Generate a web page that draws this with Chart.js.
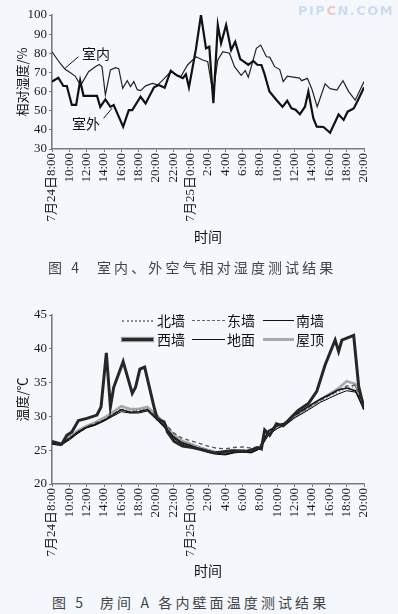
<!DOCTYPE html>
<html><head><meta charset="utf-8">
<script src="https://cdn.jsdelivr.net/npm/chart.js@4/dist/chart.umd.min.js"></script>
<style>
html,body{margin:0;padding:0;background:#f4f8fc;}
#wrap{position:relative;width:398px;height:614px;overflow:hidden;background:#f4f8fc;font-family:'Noto Sans CJK SC',sans-serif;}
.cv{position:absolute;left:0;}
.lbl{position:absolute;font-size:14px;line-height:16px;color:#111;white-space:nowrap;}
.cap{position:absolute;font-size:14px;line-height:16px;color:#444;white-space:nowrap;letter-spacing:3.1px;}
.sw{position:absolute;height:0;}
.wm{position:absolute;left:298px;top:3px;font-family:'DejaVu Sans',sans-serif;font-weight:bold;font-size:13px;letter-spacing:1.5px;color:#cddcf0;}
</style></head><body>
<div id="wrap">
  <canvas class="cv" id="c1" width="398" height="248" style="top:0"></canvas>
  <canvas class="cv" id="c2" width="398" height="292" style="top:290px"></canvas>
  <div class="wm">PIP<span style="color:#f2c4c4">C</span>N.COM</div>
  <div class="lbl" style="left:82px;top:45px">室内</div>
  <div class="lbl" style="left:72px;top:115px">室外</div>
  <div class="cap" style="left:48px;top:259px">图 4</div>
  <div class="cap" style="left:97px;top:259px">室内、外空气相对湿度测试结果</div>
  <div class="cap" style="left:52px;top:594px">图 5</div>
  <div class="cap" style="left:100px;top:594px">房间 A 各内壁面温度测试结果</div>
  <div class="sw" style="left:122px;top:320px;width:31px;border-top:2px dotted #8a8a8a"></div>
  <div class="lbl" style="left:157px;top:312px">北墙</div>
  <div class="sw" style="left:192px;top:320px;width:33px;border-top:1.5px dashed #666"></div>
  <div class="lbl" style="left:227px;top:312px">东墙</div>
  <div class="sw" style="left:263px;top:320px;width:31px;border-top:1.5px solid #111"></div>
  <div class="lbl" style="left:296px;top:312px">南墙</div>
  <div class="sw" style="left:122px;top:338px;width:31px;border-top:3px solid #2a2a2a;box-shadow:0 0 1px 1px #999"></div>
  <div class="lbl" style="left:157px;top:331px">西墙</div>
  <div class="sw" style="left:192px;top:339px;width:33px;border-top:1px solid #111"></div>
  <div class="lbl" style="left:227px;top:331px">地面</div>
  <div class="sw" style="left:263px;top:338px;width:31px;border-top:3px solid #aaa"></div>
  <div class="lbl" style="left:296px;top:331px">屋顶</div>
</div>
<script>
// ---------- shared tick labels (hours since 7/24 8:00) ----------
const timeLabels = ['7月24日8:00','10:00','12:00','14:00','16:00','18:00','20:00','22:00','7月25日0:00','2:00','4:00','6:00','8:00','10:00','12:00','14:00','16:00','18:00','20:00'];

// ---------- Fig 4: relative humidity ----------
const rhIndoorHours = [0,0.93,1.51,2.09,2.67,3.05,3.33,4.22,4.99,5.46,5.77,6.16,6.74,7.32,7.7,8.16,8.68,9.06,9.44,9.84,10.22,10.8,11.58,12.2,12.89,13.7,14.4,14.87,15.64,16.61,17.39,17.97,18.58,19.13,19.71,20.48,21.06,21.83,22.3,22.65,23.0,23.58,24.08,24.74,25.12,25.7,26.28,26.68,27.14,27.84,28.57,28.8,29.47,29.97,30.6,31.51,32.09,32.87,33.57,34.23,34.99,36];
const rhIndoor = [80.8,74.8,71.6,69.9,68.1,65.2,63.4,70.4,73,74.2,73,58.2,71.3,72.5,72,61.7,65.7,62.6,65.2,61,60.5,63,64.3,63.5,66.5,70.5,68.5,67.8,73.9,78.2,76.5,75.6,59,76.5,80.8,80,73,68.5,71,67.5,73,82.6,84.3,78.2,78,73,71.5,65.2,68,67.5,67,65.7,66.9,61.5,52.1,64,61.5,60.8,65.7,60,55.5,65.2];
const rhOutdoorHours = [0,0.73,1.31,1.71,2.29,2.79,3.25,3.64,5.19,5.57,6.16,6.74,7.12,7.7,8.21,8.86,9.26,10.22,10.8,11.77,12.31,13.0,13.7,14.4,15.1,15.45,15.8,16.6,17.19,17.77,18.15,18.62,19.13,19.51,20.09,20.67,21.14,21.72,22.18,22.65,23.23,23.69,24.16,24.5,25.09,25.9,26.6,27.14,27.64,28.1,28.6,29.19,29.58,30.16,30.55,31.32,32.09,33.07,33.65,34.11,34.81,35.27,36];
const rhOutdoor = [65.2,67.2,62.9,62.9,53,53,65.7,57.8,57.8,52,55.9,52,53,46.9,41.6,50.3,50.3,57.3,53.8,62.2,63.4,62,70.9,68.5,67,69,62.2,82,100,82.6,83.4,53.9,94.8,85.2,94.8,81.7,86,77,75.5,74,76,74,73.9,69.5,60,55.6,52,55.2,51.2,50.5,48.1,52.1,60,46,41.7,41.5,38.5,48,45.2,49.5,51.2,55.2,62.2];
// leader lines for the 室内 / 室外 labels, in (hour, value) units
const noteLines = [[[1.51,72.2],[3.05,78.2]], [[5.96,46.0],[6.93,51.3]]];

// ---------- Fig 5: wall temperatures ----------
const tempHours = [0,1,2,3,4,5,6,7,8,9,10,11,12,13,14,15,16,17,18,19,20,21,22,23,24,25,26,27,28,29,30,31,32,33,34,35,36];
const northWall = [26.0,25.8,26.9,27.8,28.4,28.9,29.6,30.4,31.1,30.8,31.0,31.1,30.1,28.8,27.2,26.3,26.0,25.5,25.1,24.8,24.6,25.0,25.1,24.9,25.5,27.5,28.4,29.0,29.9,30.7,31.5,32.3,33.0,33.6,34.2,34.4,31.5];
const eastWall  = [26.2,25.9,26.8,27.6,28.5,29.0,29.5,30.3,31.0,30.7,30.8,31.0,30.2,29.0,27.6,26.8,26.4,26.0,25.6,25.3,25.2,25.4,25.5,25.3,25.6,27.8,28.6,29.2,30.1,30.8,31.6,32.4,33.1,33.8,34.5,34.6,31.6];
const southWall = [26.1,25.9,26.7,27.7,28.4,28.8,29.4,30.2,31.0,30.6,30.7,31.0,29.8,28.5,27.0,26.1,25.7,25.2,24.8,24.5,24.4,24.7,24.8,24.7,25.3,27.9,28.6,29.1,30.2,31.0,31.8,32.6,33.2,33.9,34.2,33.8,31.0];
const floorT    = [25.9,25.7,26.5,27.5,28.3,28.7,29.3,30.0,30.7,30.5,30.5,30.8,29.6,28.3,26.8,25.9,25.5,25.1,24.7,24.4,24.3,24.6,24.7,24.6,25.2,27.3,28.2,28.8,29.8,30.5,31.3,32.1,32.7,33.3,33.8,33.6,32.1];
const roofT     = [26.0,25.8,27.0,27.9,28.6,29.1,29.8,30.6,31.5,31.1,31.1,31.4,30.3,28.9,27.3,26.4,25.9,25.4,25.0,24.7,24.6,25.0,25.0,24.9,25.5,27.6,28.4,28.9,29.9,30.8,31.7,32.5,33.3,34.1,35.2,34.8,31.2];
const westHours = [0,1.13,1.71,2.29,3.05,4.03,5.19,5.66,6.27,6.74,7.12,8.21,9.26,9.64,10.14,10.69,11.77,12.16,12.93,13.32,14.09,15.06,16.22,17.19,18.7,20.67,22.4,23.77,24.16,24.54,25.12,25.9,26.68,27.64,28.41,29.58,30.55,31.51,32.67,33.07,33.45,34.81,35.39,36];
const westWall  = [26.3,25.9,27.2,27.7,29.4,29.7,30.2,31.4,39.4,31.4,34.3,38.1,33.4,34.3,37,37.3,31.4,29.6,29.2,27.7,26.3,25.6,25.4,25.1,24.6,24.9,24.8,25.4,25.2,28,27.2,28.9,28.6,29.9,30.9,31.9,33.7,37.6,41.3,39.6,41.3,42,34.4,31.2];

const pts = (xs, ys) => xs.map((h, i) => ({x: h, y: ys[i]}));
const serif = "'Liberation Serif','Noto Sans CJK SC',serif";
const cjk = "'Noto Sans CJK SC',sans-serif";

function options(ymin, ymax, ystep, ytitle, xHeight, pad) {
  return {
    responsive: false, animation: false, devicePixelRatio: 1,
    layout: {padding: pad},
    plugins: {legend: {display: false}, tooltip: {enabled: false}},
    elements: {point: {radius: 0}, line: {tension: 0, borderJoinStyle: 'miter'}},
    scales: {
      x: {
        type: 'linear', min: 0, max: 36,
        border: {color: '#7a7a7a', width: 1.6},
        grid: {drawOnChartArea: false, drawTicks: true, tickLength: 3, color: '#7a7a7a'},
        ticks: {stepSize: 2, autoSkip: false, maxRotation: 90, minRotation: 90, padding: 1,
                color: '#1a1a1a', font: {family: serif, size: 13},
                callback: v => timeLabels[Math.round(v / 2)]},
        title: {display: true, text: '时间', color: '#111', font: {family: cjk, size: 14}, padding: {top: 0, bottom: 3}},
        afterFit: s => { s.height = xHeight; }
      },
      y: {
        min: ymin, max: ymax,
        border: {color: '#7a7a7a', width: 1.6},
        grid: {drawOnChartArea: false, drawTicks: true, tickLength: 3, color: '#7a7a7a'},
        ticks: {stepSize: ystep, padding: 2, color: '#1a1a1a', font: {family: serif, size: 13}},
        title: {display: true, text: ytitle, color: '#111', font: {family: cjk, size: 13}, padding: {top: 14, bottom: 0}},
        afterFit: s => { s.width = 52; }
      }
    }
  };
}

const notePlugin = {
  id: 'notes',
  afterDatasetsDraw(chart) {
    const {ctx, scales: {x, y}} = chart;
    ctx.save();
    ctx.strokeStyle = '#111'; ctx.lineWidth = 1;
    noteLines.forEach(seg => {
      ctx.beginPath();
      ctx.moveTo(x.getPixelForValue(seg[0][0]), y.getPixelForValue(seg[0][1]));
      ctx.lineTo(x.getPixelForValue(seg[1][0]), y.getPixelForValue(seg[1][1]));
      ctx.stroke();
    });
    ctx.restore();
  }
};

new Chart(document.getElementById('c1'), {
  type: 'line',
  data: {datasets: [
    {label: '室外', data: pts(rhOutdoorHours, rhOutdoor), borderColor: '#111', borderWidth: 2.2, fill: false},
    {label: '室内', data: pts(rhIndoorHours, rhIndoor), borderColor: '#222', borderWidth: 1.2, fill: false}
  ]},
  options: options(30, 100, 10, '相对湿度/%', 99, {top: 15, right: 34, left: 0, bottom: 0}),
  plugins: [notePlugin]
});

new Chart(document.getElementById('c2'), {
  type: 'line',
  data: {datasets: [
    {label: '西墙', data: pts(westHours, westWall), borderColor: '#262626', borderWidth: 3, fill: false},
    {label: '南墙', data: pts(tempHours, southWall), borderColor: '#111', borderWidth: 1.5, fill: false},
    {label: '地面', data: pts(tempHours, floorT), borderColor: '#000', borderWidth: 1, fill: false},
    {label: '东墙', data: pts(tempHours, eastWall), borderColor: '#555', borderWidth: 1.3, borderDash: [4, 3], fill: false},
    {label: '北墙', data: pts(tempHours, northWall), borderColor: '#8a8a8a', borderWidth: 1.5, borderDash: [1.5, 2], fill: false},
    {label: '屋顶', data: pts(tempHours, roofT), borderColor: '#a8a8a8', borderWidth: 2.6, fill: false}
  ]},
  options: options(20, 45, 5, '温度/℃', 98, {top: 25, right: 34, left: 0, bottom: 0})
});
</script>
</body></html>
